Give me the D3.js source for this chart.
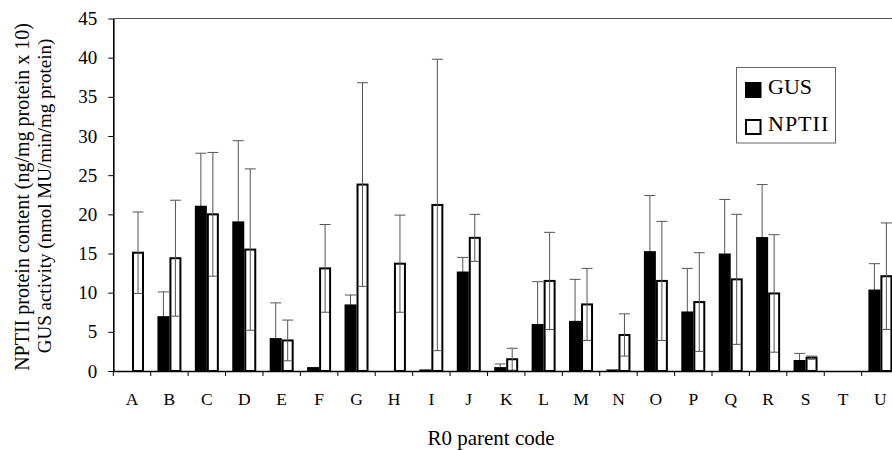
<!DOCTYPE html>
<html>
<head>
<meta charset="utf-8">
<script src="https://cdn.jsdelivr.net/npm/d3@7"></script>
<style>
  body { margin: 0; background: #fff; }
  svg { font-family: "Liberation Serif", "Times New Roman", serif; }
  .axis path, .axis line { stroke: #000; }
</style>
</head>
<body>
<svg id="chart" width="892" height="450"></svg>
<script>
// R0 parent codes
var categories = ["A","B","C","D","E","F","G","H","I","J","K","L","M","N","O","P","Q","R","S","T","U"];
var series = ["GUS", "NPTII"];

// GUS activity (nmol MU/min/mg protein), mean and sd
var gusMean = [0, 7.0, 21.1, 19.1, 4.2, 0.5, 8.5, 0, 0.2, 12.7, 0.5, 6.0, 6.4, 0.2, 15.3, 7.6, 15.0, 17.1, 1.4, 0, 10.4];
var gusSd   = [0, 3.1, 6.7, 10.3, 4.5, 0, 1.2, 0, 0, 1.8, 0.4, 5.4, 5.3, 0, 7.1, 5.5, 6.9, 6.7, 0.85, 0, 3.3];

// NPTII protein content (ng/mg protein x 10), mean and sd
var nptMean = [15.1, 14.4, 20.0, 15.5, 3.9, 13.1, 23.8, 13.7, 21.2, 17.0, 1.5, 11.5, 8.5, 4.6, 11.5, 8.8, 11.7, 9.9, 1.7, 0, 12.1];
var nptSd   = [5.2, 7.4, 7.9, 10.3, 2.6, 5.6, 13.0, 6.2, 18.6, 3.0, 1.4, 6.2, 4.6, 2.7, 7.6, 6.3, 8.3, 7.5, 0.2, 0, 6.8];

var yTicks = [0, 5, 10, 15, 20, 25, 30, 35, 40, 45];

var svg = d3.select("#chart");
var serif = "'Liberation Serif', 'Times New Roman', serif";

var plotLeft = 113.3, plotRight = 899.1, plotTop = 18.5, plotBottom = 371;

var x = d3.scaleBand().domain(categories).range([plotLeft, plotRight]).padding(0);
var x1 = d3.scaleBand().domain(series).range([0, x.bandwidth()]).paddingInner(0).paddingOuter(0.56);
var y = d3.scaleLinear().domain([0, 45]).range([plotBottom, plotTop]);

var rows = categories.map(function(c, i) {
  return [
    { cat: c, key: "GUS", v: gusMean[i], sd: gusSd[i] },
    { cat: c, key: "NPTII", v: nptMean[i], sd: nptSd[i] }
  ];
});
var flat = [].concat.apply([], rows);

// top frame line
svg.append("line")
  .attr("x1", plotLeft).attr("x2", 892)
  .attr("y1", y(45)).attr("y2", y(45))
  .attr("stroke", "#555").attr("stroke-width", 1.2);

// NPTII bars (white) first so their error lines show inside
svg.append("g").selectAll("rect")
  .data(flat.filter(function(d) { return d.key === "NPTII" && d.v > 0; }))
  .enter().append("rect")
  .attr("x", function(d) { return x(d.cat) + x1(d.key) + 1; })
  .attr("y", function(d) { return y(d.v); })
  .attr("width", x1.bandwidth() - 2)
  .attr("height", function(d) { return y(0) - y(d.v); })
  .attr("fill", "#fff")
  .attr("stroke", "#000")
  .attr("stroke-width", 2);

// error bars
var eb = svg.append("g").selectAll("g")
  .data(flat.filter(function(d) { return d.sd > 0; }))
  .enter().append("g")
  .attr("stroke", "#555")
  .attr("stroke-width", 1);

eb.append("line")
  .attr("x1", function(d) { return x(d.cat) + x1(d.key) + x1.bandwidth() / 2; })
  .attr("x2", function(d) { return x(d.cat) + x1(d.key) + x1.bandwidth() / 2; })
  .attr("y1", function(d) { return y(Math.max(0, d.v - d.sd)); })
  .attr("y2", function(d) { return y(d.v + d.sd); });

eb.append("line")
  .attr("x1", function(d) { return x(d.cat) + x1(d.key) + 0.5; })
  .attr("x2", function(d) { return x(d.cat) + x1(d.key) + x1.bandwidth() - 0.5; })
  .attr("y1", function(d) { return y(d.v + d.sd); })
  .attr("y2", function(d) { return y(d.v + d.sd); });

eb.filter(function(d) { return d.v - d.sd > 0; }).append("line")
  .attr("x1", function(d) { return x(d.cat) + x1(d.key) + 2; })
  .attr("x2", function(d) { return x(d.cat) + x1(d.key) + x1.bandwidth() - 2; })
  .attr("y1", function(d) { return y(d.v - d.sd); })
  .attr("y2", function(d) { return y(d.v - d.sd); });

// GUS bars (black)
svg.append("g").selectAll("rect")
  .data(flat.filter(function(d) { return d.key === "GUS" && d.v > 0; }))
  .enter().append("rect")
  .attr("x", function(d) { return x(d.cat) + x1(d.key); })
  .attr("y", function(d) { return y(d.v); })
  .attr("width", x1.bandwidth())
  .attr("height", function(d) { return y(0) - y(d.v); })
  .attr("fill", "#000");

// y axis
var yAxis = svg.append("g")
  .attr("class", "axis")
  .attr("transform", "translate(" + plotLeft + ",0)")
  .call(d3.axisLeft(y).tickValues(yTicks).tickSize(5).tickPadding(11).tickSizeOuter(0));
yAxis.attr("font-family", serif);
yAxis.select(".domain").attr("stroke-width", 1.6);
yAxis.selectAll("text").attr("font-size", 19).attr("fill", "#000");

// x axis: labels at category centres, ticks at category boundaries
var xAxis = svg.append("g")
  .attr("class", "axis")
  .attr("transform", "translate(0," + plotBottom + ")")
  .call(d3.axisBottom(x).tickSize(0).tickPadding(22).tickSizeOuter(0));
xAxis.attr("font-family", serif);
xAxis.select(".domain").attr("stroke-width", 1.6);
xAxis.selectAll("text").attr("font-size", 17.5).attr("fill", "#000");

svg.append("g").selectAll("line")
  .data(categories)
  .enter().append("line")
  .attr("x1", function(d) { return x(d); })
  .attr("x2", function(d) { return x(d); })
  .attr("y1", plotBottom)
  .attr("y2", plotBottom + 5)
  .attr("stroke", "#000");

// axis titles
svg.append("text")
  .attr("transform", "translate(29," + 197 + ") rotate(-90)")
  .attr("text-anchor", "middle")
  .attr("font-size", 20)
  .text("NPTII protein content (ng/mg protein x 10)");

svg.append("text")
  .attr("transform", "translate(51," + 196 + ") rotate(-90)")
  .attr("text-anchor", "middle")
  .attr("font-size", 19)
  .text("GUS activity (nmol MU/min/mg protein)");

svg.append("text")
  .attr("x", 491)
  .attr("y", 445)
  .attr("text-anchor", "middle")
  .attr("font-size", 21)
  .text("R0 parent code");

// legend
var lg = svg.append("g");
lg.append("rect")
  .attr("x", 736.5).attr("y", 67.5)
  .attr("width", 99).attr("height", 75.5)
  .attr("fill", "#fff").attr("stroke", "#666").attr("stroke-width", 1);

var lgItems = lg.selectAll("g.item")
  .data(series)
  .enter().append("g")
  .attr("class", "item")
  .attr("transform", function(d, i) { return "translate(745," + (82 + i * 37) + ")"; });

lgItems.append("rect")
  .attr("x", function(d, i) { return i ? 1 : 0; })
  .attr("y", function(d, i) { return i ? 1 : 0; })
  .attr("width", function(d, i) { return i ? 14.5 : 16.5; })
  .attr("height", function(d, i) { return i ? 14 : 16; })
  .attr("fill", function(d, i) { return i ? "#fff" : "#000"; })
  .attr("stroke", "#000")
  .attr("stroke-width", function(d, i) { return i ? 2 : 0; });

lgItems.append("text")
  .attr("x", 23)
  .attr("y", 12)
  .attr("font-size", 22)
  .attr("letter-spacing", function(d, i) { return i ? 1 : 0; })
  .text(function(d) { return d; });
</script>
</body>
</html>
